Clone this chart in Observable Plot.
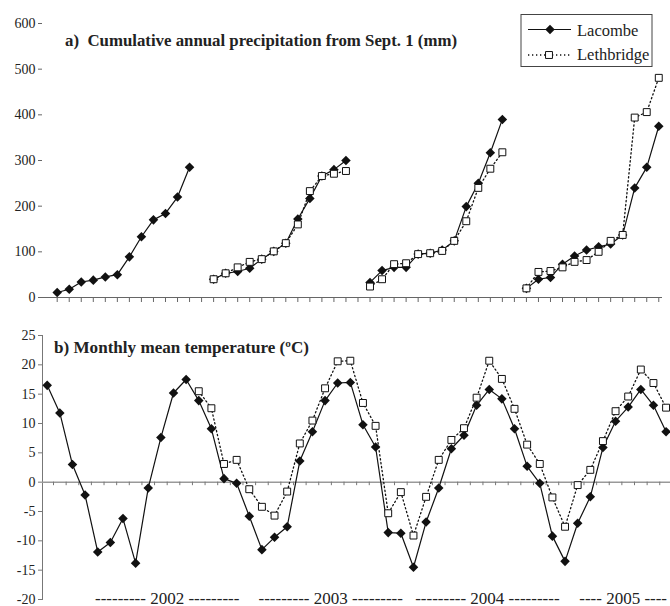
<!DOCTYPE html>
<html><head><meta charset="utf-8">
<script src="https://cdn.jsdelivr.net/npm/d3@7"></script>
<script src="https://cdn.jsdelivr.net/npm/@observablehq/plot@0.6"></script>
<style>
body{margin:0;background:#fff;}
#wrap{position:relative;width:670px;height:606px;overflow:hidden;font-family:'Liberation Serif',serif;color:#222;}
#wrap > svg{position:absolute;left:0;}
#wrap svg text{font-family:'Liberation Serif',serif !important;}
</style></head><body><div id="wrap"></div>
<script>
// ---- data ----
const stations = ["Lacombe", "Lethbridge"];
const seasons = ["2001-02", "2002-03", "2003-04", "2004-05"];
const monthsFromSept = ["Sep","Oct","Nov","Dec","Jan","Feb","Mar","Apr","May","Jun","Jul","Aug"];
// cumulative precipitation from Sept. 1 (mm), one array per season
const precipLacombe = [
  [11, 18, 34, 38, 45, 50, 89, 133, 170, 184, 220, 285],
  [40, 53, 57, 64, 84, 101, 119, 172, 217, 266, 280, 300],
  [33, 59, 66, 66, 95, 97, 104, 124, 199, 250, 317, 390],
  [20, 40, 44, 73, 91, 104, 111, 117, 137, 240, 285, 375]
];
const precipLethbridge = [
  null,
  [40, 53, 66, 78, 84, 101, 119, 160, 233, 266, 271, 277],
  [24, 40, 73, 75, 95, 97, 102, 124, 167, 240, 282, 318],
  [20, 56, 58, 66, 78, 82, 100, 124, 137, 394, 406, 481]
];
// monthly mean temperature (°C), Aug 2001 – Sep 2005
const tempMonths = d3.utcMonths(new Date(Date.UTC(2001, 7, 1)), new Date(Date.UTC(2005, 9, 1)));
const tempLacombe = [16.5, 11.8, 3.0, -2.2, -11.9, -10.3, -6.2, -13.8, -1.0, 7.6, 15.2, 17.5,
  13.9, 9.1, 0.6, -0.2, -5.8, -11.5, -9.4, -7.6, 3.6, 8.6, 13.9, 16.9,
  17.0, 9.8, 6.0, -8.6, -8.7, -14.5, -6.8, -1.0, 5.7, 8.0, 13.1, 15.8,
  14.2, 9.1, 2.7, -0.2, -9.2, -13.5, -7.0, -2.5, 5.9, 10.4, 12.8, 15.8,
  13.1, 8.6];
const tempLethbridgeStart = 12; // Aug 2002
const tempLethbridge = [15.5, 12.6, 3.1, 3.8, -1.2, -4.2, -5.7, -1.6, 6.6, 10.5, 16.0, 20.6,
  20.7, 13.5, 9.6, -5.3, -1.7, -9.1, -2.5, 3.8, 7.2, 9.2, 14.4, 20.7,
  17.6, 12.5, 6.4, 3.1, -2.6, -7.6, -0.5, 2.1, 7.0, 12.1, 14.6, 19.2,
  16.9, 12.7];
const yearLabels = ["2002", "2003", "2004", "2005"];
const yearLabelPos = [9.5, 22.45, 34.85, 45.6];
const yearLabelDashes = [9, 9, 9, 4];
const precipTicks = [0, 100, 200, 300, 400, 500, 600];
const tempTicks = [-20, -15, -10, -5, 0, 5, 10, 15, 20, 25];

// ---- tables ----
const precipRows = [];
seasons.forEach((s, si) => {
  [precipLacombe, precipLethbridge].forEach((arr, k) => {
    const vals = arr[si];
    if (!vals) return;
    vals.forEach((v, m) => precipRows.push({station: stations[k], season: s, month: monthsFromSept[m], slot: si * 13 + m, value: v}));
  });
});
const precipSlots = d3.range(seasons.length * 13 - 1);
const tempRows = [];
tempLacombe.forEach((v, i) => tempRows.push({station: stations[0], date: tempMonths[i], i, value: v}));
tempLethbridge.forEach((v, j) => tempRows.push({station: stations[1], date: tempMonths[j + tempLethbridgeStart], i: j + tempLethbridgeStart, value: v}));
const yearRows = yearLabels.map((y, k) => {
  const d = "-".repeat(yearLabelDashes[k]);
  return {label: `${d} ${y} ${d}`, pos: yearLabelPos[k]};
});
const tempTickSlots = d3.range(tempLacombe.length).map(i => i + 0.5);

const ink = "#111";
const lac = d => d.station === "Lacombe";
const leth = d => d.station === "Lethbridge";
const serif = "'Liberation Serif', serif";

const style = {fontFamily: serif, fontSize: "14px", color: "#222", background: "transparent", overflow: "visible"};

// ---- panel a ----
const pa = Plot.plot({
  width: 670, height: 310,
  marginLeft: 42, marginRight: 8, marginTop: 23, marginBottom: 13,
  style,
  x: {domain: [-1.222, 50.31], axis: null},
  y: {domain: [0, 600], axis: null},
  marks: [
    Plot.ruleY([0], {stroke: "#666", strokeWidth: 1}),
    Plot.axisX({ticks: precipSlots, tickSize: 5, tickFormat: () => "", stroke: "#666", label: null}),
    Plot.axisY({ticks: precipTicks, tickSize: 4, tickPadding: 3, tickFormat: d => String(d), stroke: "#666", label: null, fontSize: 14}),
    Plot.line(precipRows.filter(lac), {x: "slot", y: "value", z: "season", stroke: ink, strokeWidth: 1.2}),
    Plot.dot(precipRows.filter(lac), {x: "slot", y: "value", symbol: "diamond2", fill: ink, r: 4.3}),
    Plot.line(precipRows.filter(leth), {x: "slot", y: "value", z: "season", stroke: ink, strokeWidth: 1.3, strokeDasharray: "1.3,2.7"}),
    Plot.dot(precipRows.filter(leth), {x: "slot", y: "value", symbol: "square", fill: "white", stroke: ink, strokeWidth: 1, r: 3.9})
  ]
});
pa.style.top = "0px";

// ---- panel b ----
const pb = Plot.plot({
  width: 670, height: 296,
  marginLeft: 42, marginRight: 0, marginTop: 25, marginBottom: 7,
  style,
  x: {domain: [-0.372, 49.35], axis: null},
  y: {domain: [-20, 25], axis: null},
  marks: [
    Plot.frame({anchor: "left", stroke: "#777"}),
    Plot.ruleY([0], {stroke: "#999", strokeWidth: 1.5}),
    Plot.ruleX(tempTickSlots, {x: d => d, y1: 0, y2: -0.6, stroke: "#777"}),
    Plot.axisY({ticks: tempTicks, tickSize: 4, tickPadding: 3, tickFormat: d => String(d), stroke: "#777", label: null, fontSize: 14}),
    Plot.line(tempRows.filter(lac), {x: "i", y: "value", stroke: ink, strokeWidth: 1.2}),
    Plot.dot(tempRows.filter(lac), {x: "i", y: "value", symbol: "diamond2", fill: ink, r: 4.3}),
    Plot.line(tempRows.filter(leth), {x: "i", y: "value", stroke: ink, strokeWidth: 1.3, strokeDasharray: "1.3,2.7"}),
    Plot.dot(tempRows.filter(leth), {x: "i", y: "value", symbol: "square", fill: "white", stroke: ink, strokeWidth: 1, r: 3.9}),
    Plot.text(yearRows, {x: "pos", text: "label", frameAnchor: "bottom", lineAnchor: "bottom", dy: 4, fontSize: 17, fill: "#222"})
  ]
});
pb.style.top = "310px";

const wrap = document.getElementById("wrap");
wrap.appendChild(pa);
wrap.appendChild(pb);

// ---- titles & legend overlay ----
const ov = d3.create("svg").attr("width", 670).attr("height", 606).style("top", "0px")
  .attr("font-family", serif);
ov.append("text").attr("x", 65).attr("y", 46).attr("font-weight", "bold").attr("font-size", 17)
  .attr("textLength", 392).attr("lengthAdjust", "spacingAndGlyphs").style("white-space", "pre").attr("fill", "#222")
  .text("a)  Cumulative annual precipitation from Sept. 1 (mm)");
ov.append("text").attr("x", 54).attr("y", 353).attr("font-weight", "bold").attr("font-size", 16.5)
  .attr("textLength", 255).attr("lengthAdjust", "spacingAndGlyphs").attr("fill", "#222")
  .text("b) Monthly mean temperature (ºC)");
const lg = ov.append("g");
lg.append("rect").attr("x", 521).attr("y", 14.5).attr("width", 131).attr("height", 52).attr("fill", "white").attr("stroke", "#444");
lg.append("line").attr("x1", 528).attr("x2", 571).attr("y1", 29.5).attr("y2", 29.5).attr("stroke", ink).attr("stroke-width", 1.2);
lg.append("path").attr("transform", "translate(550,29.5)").attr("d", d3.symbol(d3.symbolDiamond2, Math.PI * 4.3 * 4.3)()).attr("fill", ink);
lg.append("text").attr("x", 577).attr("y", 36).attr("font-size", 16.5).attr("fill", "#222").text(stations[0]);
lg.append("line").attr("x1", 528).attr("x2", 571).attr("y1", 55).attr("y2", 55).attr("stroke", ink).attr("stroke-width", 1.3).attr("stroke-dasharray", "1.3,2.7");
lg.append("path").attr("transform", "translate(549,55)").attr("d", d3.symbol(d3.symbolSquare, Math.PI * 3.9 * 3.9)()).attr("fill", "white").attr("stroke", ink);
lg.append("text").attr("x", 577).attr("y", 59.5).attr("font-size", 16.5).attr("fill", "#222").text(stations[1]);
wrap.appendChild(ov.node());
</script></body></html>
